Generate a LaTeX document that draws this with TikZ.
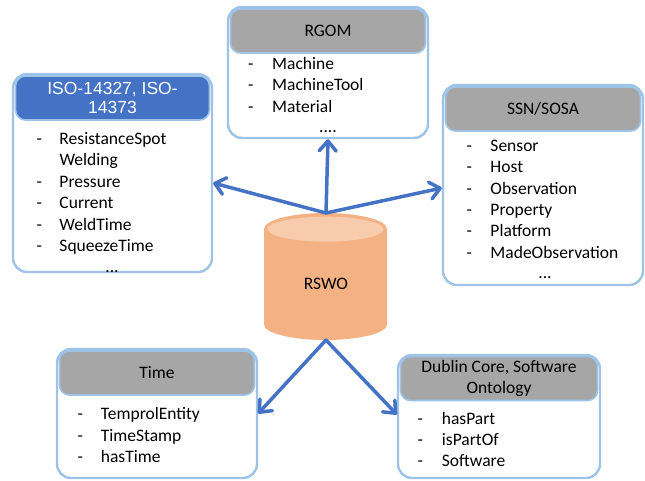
\documentclass[tikz,border=0pt]{standalone}
\usepackage{fontspec}
\setmainfont{Carlito}
\newfontfamily\arialf{Liberation Sans}
\usetikzlibrary{arrows.meta,calc}
\definecolor{ablue}{HTML}{4472C4}
\definecolor{bordc}{HTML}{9DC3E6}
\definecolor{hgray}{HTML}{A6A6A6}
\definecolor{cylbody}{HTML}{F4B183}
\definecolor{cyltop}{HTML}{F8CBAD}
\tikzset{
  box/.style={draw=bordc, line width=2.4pt, fill=white, rounded corners=14pt, inner sep=0pt},
  hdr/.style={draw=bordc, line width=1.6pt, fill=hgray, rounded corners=10pt, inner sep=0pt,
              align=center, font=\fontsize{17.5}{21.4}\selectfont},
  lst/.style={anchor=base west, inner sep=0pt, font=\fontsize{17.5}{21.4}\selectfont},
  dots/.style={anchor=base, inner sep=0pt, font=\fontsize{17.5}{21.4}\selectfont},
  arr/.style={draw=ablue, line width=3.5pt, line cap=round,
              -{Straight Barb[length=10pt,width=17pt,line cap=round,line join=round]}}
}
\begin{document}
\begin{tikzpicture}[x=1pt,y=-1pt]
\useasboundingbox (0,0) rectangle (645,481);

% ISO box
\node[box, minimum width=199pt, minimum height=198pt] (iso) at (112.5,173) {};
\node[hdr, fill=ablue, text=white, minimum width=194pt, minimum height=44pt,
      font=\arialf\fontsize{17.5}{19.5}\selectfont] (isoh) at (112.5,98) {ISO-14327, ISO-\\14373};
\node[lst] (isol) at (36.3,144.6) {\begin{tabular}[t]{@{}p{23pt}@{}l@{}}
- & ResistanceSpot\\ & Welding\\ - & Pressure\\ - & Current\\ - & WeldTime\\ - & SqueezeTime\end{tabular}};
\node[dots] (isod) at (112,272) {...};

% RGOM box
\node[box, minimum width=200pt, minimum height=131pt] (rgom) at (328,72.5) {};
\node[hdr, minimum width=195pt, minimum height=44pt] (rgomh) at (328,31) {RGOM};
\node[lst] (rgoml) at (248,69.6) {\begin{tabular}[t]{@{}p{24pt}@{}l@{}}
- & Machine\\ - & MachineTool\\ - & Material\end{tabular}};
\node[dots] (rgomd) at (328,133) {....};

% SSN/SOSA box
\node[box, minimum width=200pt, minimum height=200pt] (ssn) at (543,185) {};
\node[hdr, minimum width=195pt, minimum height=44pt] (ssnh) at (543,109) {SSN/SOSA};
\node[lst] (ssnl) at (466.3,151.3) {\begin{tabular}[t]{@{}p{24pt}@{}l@{}}
- & Sensor\\ - & Host\\ - & Observation\\ - & Property\\ - & Platform\\ - & MadeObservation\end{tabular}};
\node[dots] (ssnd) at (545,278) {...};

% Time box
\node[box, minimum width=200pt, minimum height=129pt] (time) at (157,413.5) {};
\node[hdr, minimum width=195pt, minimum height=44pt] (timeh) at (157,373) {Time};
\node[lst] (timel) at (77.3,419.6) {\begin{tabular}[t]{@{}p{23.4pt}@{}l@{}}
- & TemprolEntity\\ - & TimeStamp\\ - & hasTime\end{tabular}};

% Dublin box
\node[box, minimum width=202pt, minimum height=123pt] (dub) at (499,416.5) {};
\node[hdr, minimum width=197pt, minimum height=44pt] (dubh) at (499,378.5) {Dublin Core, Software\\Ontology};
\node[lst] (dubl) at (417.3,424) {\begin{tabular}[t]{@{}p{24.4pt}@{}l@{}}
- & hasPart\\ - & isPartOf\\ - & Software\end{tabular}};

% Cylinder RSWO
\fill[cylbody] (264,229) -- (264,324.5)
   arc[start angle=180, end angle=0, x radius=61.5, y radius=15.5] -- (387,229) -- cycle;
\fill[cylbody] (325.5,229) ellipse[x radius=61.5, y radius=16];
\fill[cyltop] (325.5,229.2) ellipse[x radius=58, y radius=12.5];
\node[inner sep=0pt, font=\fontsize{17.5}{21.4}\selectfont] (rswo) at (326,284) {RSWO};
\coordinate (rtop) at (326,213);
\coordinate (rbot) at (326,340);

% Arrows
\draw[arr] (rtop) -- ($(iso.east)+(0,10)$);
\draw[arr] (rtop) -- (rgom.south);
\draw[arr] (rtop) -- ($(ssn.west)+(0,3)$);
\draw[arr] (rbot) -- (time.east);
\draw[arr] (rbot) -- ($(dub.west)+(0,-2)$);
\end{tikzpicture}
\end{document}
